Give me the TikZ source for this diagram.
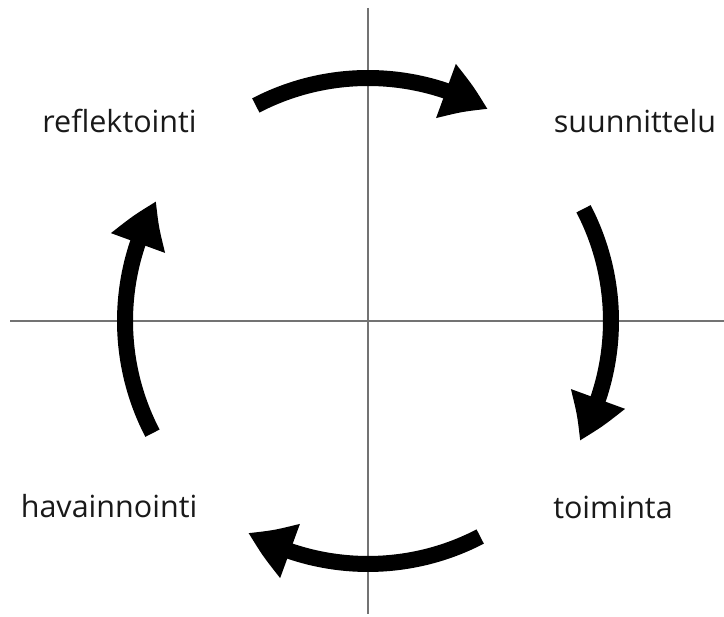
\documentclass[tikz,border=0pt]{standalone}
\usepackage{fontspec}
\setmainfont{Open Sans}
\usetikzlibrary{arrows.meta,bending}
\begin{document}
\begin{tikzpicture}[x=1pt,y=1pt]
                \tikzset{
                    phase/.style={anchor=base, font=\fontsize{30.5}{36}\selectfont, text=black!90},
                    axis/.style={draw=black!55, line width=2pt},
                    cycle/.style={line width=16pt, -{Triangle[width=54pt,length=46pt,bend]}}
                }
                \useasboundingbox (0,0) rectangle (724,617);
                
                \coordinate (o) at (368,296);
                \coordinate (w) at (10,296);
                \coordinate (e) at (724,296);
                \coordinate (n) at (368,609);
                \coordinate (s) at (368,3);
                \draw[axis] (w) -- (e);
                \draw[axis] (n) -- (s);
                
                \draw node[phase] (refl) at (119.5,484) {reflektointi};
                \draw node[phase] (suun) at (635,484) {suunnittelu};
                \draw node[phase] (toim) at (613,98) {toiminta};
                \draw node[phase] (hava) at (109,99) {havainnointi};
                
                \foreach \a in {90,0,-90,180}{
                \draw[cycle] (o) ++(\a+27.5:243) arc[start angle=\a+27.5, end angle=\a-29.5, radius=243];
                }
            \end{tikzpicture}
\end{document}
